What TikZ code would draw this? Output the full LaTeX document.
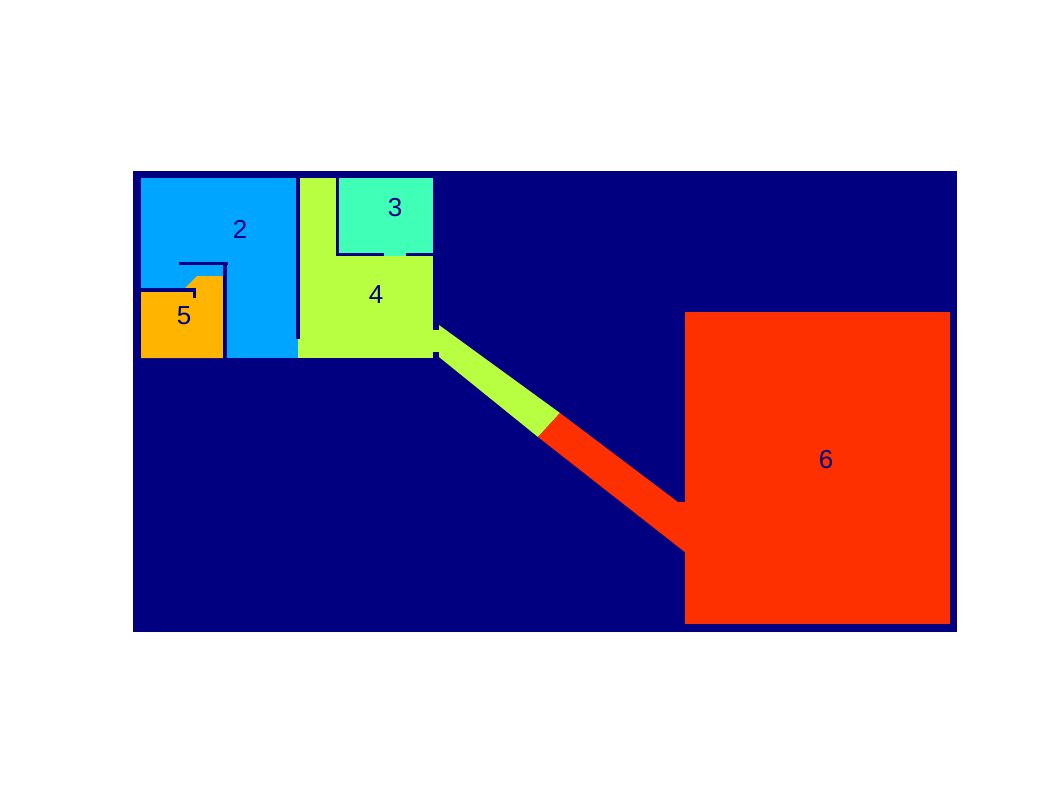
\documentclass[tikz,border=0pt]{standalone}
\usepackage{fontspec}
\setmainfont{Liberation Sans}
\definecolor{bgnavy}{RGB}{0,0,128}
\definecolor{zblue}{RGB}{0,165,255}
\definecolor{zteal}{RGB}{64,255,183}
\definecolor{zgreen}{RGB}{183,255,64}
\definecolor{zorange}{RGB}{255,181,0}
\definecolor{zred}{RGB}{255,48,0}
\tikzset{
  wall/.style={fill=bgnavy},
  roomlabel/.style={text=bgnavy, font=\fontsize{26}{26}\selectfont, inner sep=0pt}
}
\begin{document}
\begin{tikzpicture}[x=1pt,y=-1pt]
\useasboundingbox (0,0) rectangle (1062,796);
\fill[white] (0,0) rectangle (1062,796);
% background
\fill[bgnavy] (133,171) rectangle (957,632);
% rooms
\fill[zblue] (141,178) rectangle (298,358);
\fill[zgreen] (298,178) rectangle (433,358);
\fill[zteal] (339,178) rectangle (433,253);
\fill[zteal] (384,253) rectangle (406,256);
\fill[zorange] (141,288) -- (185,288) -- (197,276) -- (223,276) -- (223,358) -- (141,358) -- cycle;
\fill[zred] (685,312) rectangle (950,624);
% corridor
\fill[zgreen] (433,330) rectangle (440,352);
\fill[zgreen] (439,325) -- (560,413) -- (538,437) -- (439,357) -- cycle;
\fill[zred] (560,413) -- (678,502) -- (686,502) -- (686,553) -- (538,437) -- cycle;
% walls
\fill[wall] (296,178) rectangle (300,339);
\fill[wall] (336,178) rectangle (339,256);
\fill[wall] (336,253) rectangle (384,256);
\fill[wall] (406,253) rectangle (433,256);
\fill[wall] (179,262) rectangle (228,265);
\fill[wall] (223,262) rectangle (227,358);
\fill[wall] (140,288) rectangle (196,292);
\fill[wall] (193,288) rectangle (196,298);
% labels
\node[roomlabel] (l2) at (240,229) {2};
\node[roomlabel] (l3) at (395,208) {3};
\node[roomlabel] (l4) at (376,295) {4};
\node[roomlabel] (l5) at (184,316) {5};
\node[roomlabel] (l6) at (826,460) {6};
\end{tikzpicture}
\end{document}
